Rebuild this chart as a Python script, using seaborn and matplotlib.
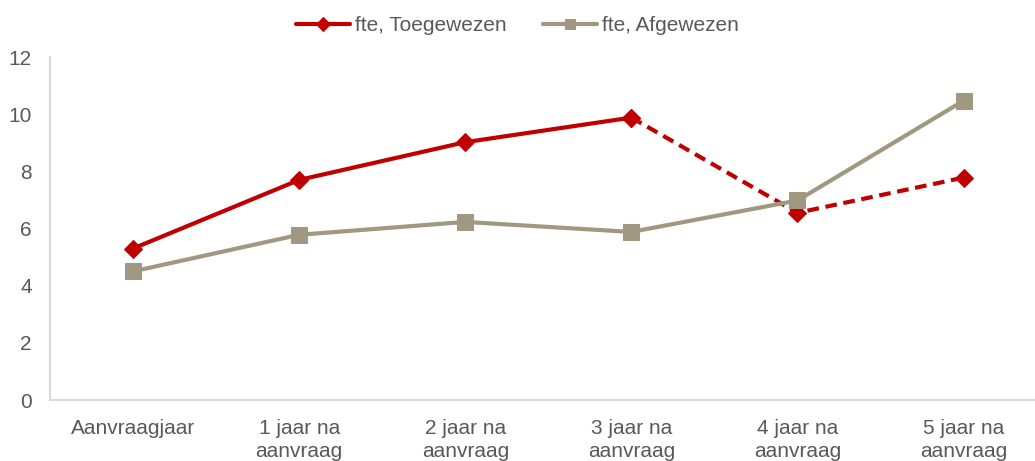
import matplotlib
matplotlib.use("Agg")
import matplotlib.pyplot as plt
import seaborn as sns
import pandas as pd
import numpy as np

categories = ["Aanvraagjaar", "1 jaar na\naanvraag", "2 jaar na\naanvraag",
              "3 jaar na\naanvraag", "4 jaar na\naanvraag", "5 jaar na\naanvraag"]
toegewezen = [5.3, 7.7, 9.02, 9.88, 6.55, 7.78]
afgewezen = [4.5, 5.78, 6.23, 5.88, 6.98, 10.47]
label_toe = "fte, Toegewezen"
label_af = "fte, Afgewezen"
yticks = [0, 2, 4, 6, 8, 10, 12]

RED = "#C00000"
TAN = "#A19882"
TXT = "#595959"
AXIS = "#D9D9D9"

sns.set_theme(style="white")
plt.rcParams["font.family"] = ["Liberation Sans", "DejaVu Sans"]

pos = list(range(len(categories)))
df_t = pd.DataFrame({"x": pos, "y": toegewezen})
df_a = pd.DataFrame({"x": pos, "y": afgewezen})

fig = plt.figure(figsize=(10.35, 4.61), dpi=100)
ax = fig.add_axes([50 / 1035, 61 / 461, 985 / 1035, 343 / 461])

sns.lineplot(data=df_t.iloc[:4], x="x", y="y", ax=ax, color=RED, linewidth=3,
             marker="D", markersize=9, markeredgecolor=RED, label=label_toe, zorder=3)
sns.lineplot(data=df_t.iloc[3:], x="x", y="y", ax=ax, color=RED, linewidth=3,
             linestyle=(0, (2.8, 1.6)), marker="D", markersize=9, markeredgecolor=RED,
             legend=False, zorder=3)
sns.lineplot(data=df_a, x="x", y="y", ax=ax, color=TAN, linewidth=3,
             marker="s", markersize=11, markeredgecolor=TAN, label=label_af, zorder=4)

ax.set_xlim(-0.5, 5.43)
ax.set_ylim(0, 12)
ax.set_yticks(yticks)
ax.set_yticklabels([str(v) for v in yticks])
ax.set_xticks(pos)
ax.set_xticklabels(categories, linespacing=1.22)
ax.set_xlabel("")
ax.set_ylabel("")
ax.tick_params(axis="y", length=0, pad=13, labelsize=15, labelcolor=TXT)
ax.tick_params(axis="x", length=0, pad=14, labelsize=15, labelcolor=TXT)

for s in ["top", "right"]:
    ax.spines[s].set_visible(False)
for s in ["bottom", "left"]:
    ax.spines[s].set_color(AXIS)
    ax.spines[s].set_linewidth(1.5)
ax.grid(False)

leg = ax.legend(loc="upper center", bbox_to_anchor=(0.5, 1.006), bbox_transform=fig.transFigure,
                ncol=2, frameon=False, fontsize=15, handlelength=2.6, columnspacing=1.75,
                handletextpad=0.25)
for t in leg.get_texts():
    t.set_color(TXT)
for h in leg.legend_handles:
    h.set_markersize(7)

fig.savefig("out.png", dpi=100)
